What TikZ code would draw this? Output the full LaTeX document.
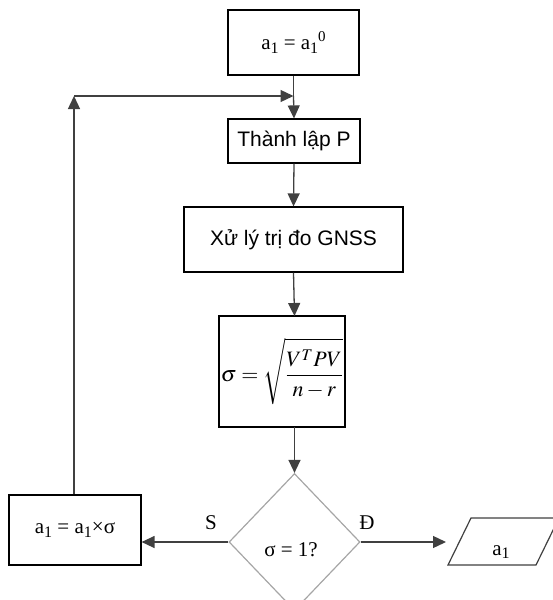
\documentclass[tikz,border=0pt]{standalone}
\usepackage{mathptmx}
\usepackage{fontspec}
\setmainfont{Liberation Serif}
\newfontfamily\sansvn{Liberation Sans}
\usetikzlibrary{shapes.geometric,arrows.meta}
\newcommand\lowi[1]{\raisebox{-0.35ex}{\fontsize{16}{16}\selectfont #1}}
\newcommand\upi[1]{\raisebox{0.85ex}{\fontsize{15}{15}\selectfont #1}}
\begin{document}
\begin{tikzpicture}[x=1pt,y=-1pt,
  box/.style={draw=black, line width=1.2pt, inner sep=0pt, fill=white,
    font=\fontsize{21}{24}\selectfont},
  conn/.style={draw=gray!50!black, line width=1.3pt},
  arr/.style={conn, -{Triangle[length=13pt,width=12pt]}},
  lbl/.style={inner sep=0pt, font=\fontsize{21}{24}\selectfont}]
\useasboundingbox (0,0) rectangle (553,600);
\begin{scope}
\clip (0,0) rectangle (553,600);

% process boxes
\node[box, minimum width=131pt, minimum height=65pt] (init) at (293.5,42.5)
  {a\lowi{1} = a\lowi{1}\upi{0}};
\node[box, minimum width=132pt, minimum height=44pt] (weight) at (294,141)
  {\sansvn Thành lập P};
\node[box, minimum width=219pt, minimum height=65pt] (proc) at (293.5,239.5)
  {\sansvn Xử lý trị đo GNSS};
\node[box, minimum width=126pt, minimum height=111pt] (sig) at (282,371.5)
  {\fontsize{22}{26}\selectfont$\displaystyle\sigma=\sqrt{\frac{V^{T}PV}{n-r}}$};

% decision
\node[diamond, draw=gray!70, line width=1.2pt, inner sep=0pt,
  minimum width=131pt, minimum height=137pt] (dec) at (294.5,542) {};
\node[lbl] at (291,550) {σ = 1?};

% update box
\node[box, minimum width=132pt, minimum height=70pt] (upd) at (75,530)
  {a\lowi{1} = a\lowi{1}×σ};

% output parallelogram
\draw[draw=gray!50!black, line width=1.2pt, fill=white]
  (471,518) -- (559,518) -- (536,565) -- (448,565) -- cycle;
\node[lbl] (out) at (501,552) {a\lowi{1}};
\coordinate (outin) at (446,542);

% connectors
\coordinate (join) at (293.5,96);
\coordinate (corner) at (74,96);
\draw[conn] (init.south) -- (join);
\draw[arr] (join) -- (weight.north);
\draw[arr] (weight.south) -- (proc.north);
\draw[arr] (proc.south) -- (294.5,316);
\draw[arr] (294.5,427) -- (dec.north);
\draw[arr] (dec.west) -- (dec.west -| upd.east);
\draw[arr] (dec.east) -- (outin);
\draw[arr] (upd.north -| corner) -- (corner);
\draw[arr] (corner) -- (join);

% branch labels
\node[lbl] at (211,523) {S};
\node[lbl] at (367,523) {Đ};
\end{scope}
\end{tikzpicture}
\end{document}
